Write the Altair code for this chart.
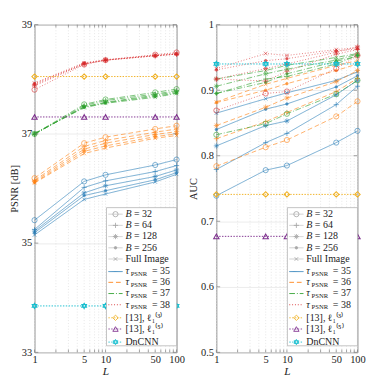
import math
import altair as alt
import pandas as pd

# ---------------- data ----------------
L_values = [1, 5, 10, 50, 100]
block_sizes = ["32", "64", "128", "256", "Full Image"]
tau_values = ["35", "36", "37", "38"]

# PSNR [dB]; one list per block size (32, 64, 128, 256, Full Image)
psnr_tau35 = [[35.42, 36.13, 36.25, 36.43, 36.53],
              [35.25, 36.02, 36.14, 36.31, 36.42],
              [35.22, 35.92, 36.05, 36.22, 36.34],
              [35.19, 35.87, 35.96, 36.16, 36.29],
              [35.15, 35.80, 35.90, 36.12, 36.26]]
psnr_tau36 = [[36.19, 36.83, 36.94, 37.09, 37.15],
              [36.15, 36.77, 36.88, 37.03, 37.09],
              [36.13, 36.72, 36.83, 36.99, 37.04],
              [36.11, 36.68, 36.78, 36.95, 37.00],
              [36.10, 36.64, 36.74, 36.92, 36.97]]
psnr_tau37 = [[37.00, 37.54, 37.63, 37.76, 37.82],
              [36.99, 37.52, 37.61, 37.73, 37.79],
              [37.00, 37.50, 37.58, 37.71, 37.77],
              [37.00, 37.49, 37.57, 37.69, 37.75],
              [37.01, 37.48, 37.56, 37.67, 37.74]]
psnr_tau38 = [[37.81, 38.27, 38.35, 38.45, 38.49],
              [37.88, 38.28, 38.35, 38.43, 38.46],
              [37.90, 38.28, 38.35, 38.43, 38.46],
              [37.92, 38.29, 38.35, 38.43, 38.46],
              [37.93, 38.30, 38.36, 38.44, 38.47]]

# AUC; one list per block size
auc_tau35 = [[0.739, 0.778, 0.785, 0.820, 0.838],
             [0.779, 0.820, 0.834, 0.878, 0.906],
             [0.815, 0.846, 0.853, 0.893, 0.915],
             [0.840, 0.871, 0.879, 0.905, 0.922],
             [0.865, 0.887, 0.896, 0.915, 0.928]]
auc_tau36 = [[0.784, 0.813, 0.824, 0.860, 0.883],
             [0.826, 0.852, 0.866, 0.898, 0.918],
             [0.846, 0.874, 0.888, 0.913, 0.930],
             [0.881, 0.900, 0.910, 0.930, 0.940],
             [0.882, 0.909, 0.918, 0.938, 0.945]]
auc_tau37 = [[0.832, 0.849, 0.864, 0.894, 0.915],
             [0.895, 0.917, 0.921, 0.940, 0.953],
             [0.906, 0.925, 0.932, 0.946, 0.955],
             [0.895, 0.912, 0.925, 0.944, 0.952],
             [0.917, 0.930, 0.938, 0.950, 0.956]]
auc_tau38 = [[0.869, 0.895, 0.898, 0.933, 0.953],
             [0.917, 0.914, 0.929, 0.955, 0.962],
             [0.917, 0.933, 0.940, 0.958, 0.966],
             [0.931, 0.945, 0.948, 0.960, 0.963],
             [0.933, 0.956, 0.953, 0.962, 0.965]]

ref_names = ["l3", "l5", "DnCNN"]
ref_labels = ["[13], \u2113\u2081\u207d\u00b3\u207e", "[13], \u2113\u2081\u207d\u2075\u207e", "DnCNN"]
psnr_refs = [38.05, 37.31, 33.85]
auc_refs = [0.741, 0.677, 0.940]

x_minor = [1, 2, 3, 4, 5, 6, 7, 8, 9, 10, 20, 30, 40, 50, 60, 70, 80, 90, 100]
x_labels = [1, 5, 10, 50, 100]
psnr_ticks = [33, 35, 37, 39]
auc_ticks = [0.5, 0.6, 0.7, 0.8, 0.9, 1.0]

# ---------------- style ----------------
FONT = "Liberation Serif"
TAU_COLORS = {"35": "#1f77b4", "36": "#ff7f0e", "37": "#2ca02c", "38": "#d62728"}
TAU_DASH = {"35": [1, 0], "36": [5, 3], "37": [6, 2, 1, 2], "38": [1, 2]}
PLUS = "M-1,0L1,0M0,-1L0,1"
AST = "M-1,0L1,0M0,-1L0,1M-0.7,-0.7L0.7,0.7M-0.7,0.7L0.7,-0.7"
XSH = "M-0.8,-0.8L0.8,0.8M-0.8,0.8L0.8,-0.8"
HEX = "M0,-1L0.87,0.5L-0.87,0.5ZM0,1L0.87,-0.5L-0.87,-0.5Z"
B_SHAPES = {"32": "circle", "64": PLUS, "128": AST, "256": "circle", "Full Image": XSH}
B_SIZES = {"32": 30, "64": 30, "128": 30, "256": 7, "Full Image": 22}
REF_COLORS = ["#f0b020", "#7e2f8e", "#17becf"]
REF_SHAPES = ["diamond", "triangle-up", HEX]
GRAY = "#a8a8a8"

# legend rows: distance of row centre from plot bottom in the reference (px)
legend_d = [148, 136, 124, 112, 100, 86.5, 75, 63, 51, 37, 25, 11]


def build_panel(series, refs, ydom, yticks, ytitle, label_expr, W, H):
    k = H / 351.0
    xs = alt.Scale(type="log", domain=[1, 100], nice=False)
    ys = alt.Scale(domain=ydom, nice=False, zero=False)
    xaxis = alt.Axis(values=x_labels, grid=False, ticks=False, domain=False,
                     labelFont=FONT, labelFontSize=11, labelColor="#222",
                     labelPadding=2, labelOverlap=False, labelFlush=False,
                     title="L", titleFont=FONT, titleFontSize=12,
                     titleFontStyle="italic", titleFontWeight="normal",
                     titlePadding=1, titleColor="#222")
    yaxis = alt.Axis(values=yticks, grid=True, gridColor="#e6e6e6",
                     gridWidth=0.8, ticks=False, domain=False,
                     labelExpr=label_expr, labelFont=FONT, labelFontSize=11,
                     labelColor="#222", labelPadding=3, title=ytitle,
                     titleFont=FONT, titleFontSize=11,
                     titleFontWeight="normal", titlePadding=2,
                     titleColor="#222")

    def X(f):
        return alt.X(f + ":Q", scale=xs, axis=xaxis)

    def Y(f):
        return alt.Y(f + ":Q", scale=ys, axis=yaxis)

    # pixel -> data helpers (for legend layout inside the plot)
    def px2x(px):
        return 10 ** (2.0 * px / W)

    def py2y(py):
        return ydom[0] + (H - py) / H * (ydom[1] - ydom[0])

    rows = []
    for t, blist in zip(tau_values, series):
        for b, vals in zip(block_sizes, blist):
            for L, v in zip(L_values, vals):
                rows.append(dict(L=L, v=v, tau=t, key=t + "-" + b,
                                 stroke=TAU_COLORS[t],
                                 fill=TAU_COLORS[t] if b == "256" else "transparent",
                                 shape=B_SHAPES[b], size=B_SIZES[b]))
    df = pd.DataFrame(rows)

    rrows = []
    for name, val, col, shp in zip(ref_names, refs, REF_COLORS, REF_SHAPES):
        for L in L_values:
            rrows.append(dict(L=L, v=val, name=name, col=col, shape=shp))
    dfr = pd.DataFrame(rrows)

    dfx = pd.DataFrame({"L": x_minor})
    dfy = pd.DataFrame({"v": yticks})

    grid = alt.Chart(dfx).mark_rule(
        color="#d9d9d9", strokeDash=[1, 2], strokeWidth=0.7
    ).encode(x=X("L"))

    tick_b = alt.Chart(dfx).mark_rule(color="#777", strokeWidth=0.7).encode(
        x=X("L"), y=alt.value(H), y2=alt.value(H - 3))
    tick_t = alt.Chart(dfx).mark_rule(color="#777", strokeWidth=0.7).encode(
        x=X("L"), y=alt.value(0), y2=alt.value(3))
    tick_l = alt.Chart(dfy).mark_rule(color="#777", strokeWidth=0.7).encode(
        y=Y("v"), x=alt.value(0), x2=alt.value(4))
    tick_r = alt.Chart(dfy).mark_rule(color="#777", strokeWidth=0.7).encode(
        y=Y("v"), x=alt.value(W - 4), x2=alt.value(W))

    lines = alt.Chart(df).mark_line(strokeWidth=0.9, strokeOpacity=0.7).encode(
        x=X("L"), y=Y("v"),
        color=alt.Color("tau:N", scale=alt.Scale(domain=tau_values,
                        range=[TAU_COLORS[t] for t in tau_values]), legend=None),
        strokeDash=alt.StrokeDash("tau:N", scale=alt.Scale(domain=tau_values,
                                  range=[TAU_DASH[t] for t in tau_values]), legend=None),
        detail="key:N",
    )
    points = alt.Chart(df).mark_point(strokeWidth=0.8, opacity=0.75).encode(
        x=X("L"), y=Y("v"),
        shape=alt.Shape("shape:N", scale=None),
        stroke=alt.Stroke("stroke:N", scale=None),
        fill=alt.Fill("fill:N", scale=None),
        size=alt.Size("size:Q", scale=None),
    )
    ref_lines = alt.Chart(dfr).mark_line(strokeWidth=1, strokeDash=[1.5, 1.5]).encode(
        x=X("L"), y=Y("v"),
        stroke=alt.Stroke("col:N", scale=None),
        detail="name:N",
    )
    ref_points = alt.Chart(dfr).mark_point(strokeWidth=1.1, size=32, filled=False, opacity=1).encode(
        x=X("L"), y=Y("v"),
        shape=alt.Shape("shape:N", scale=None),
        stroke=alt.Stroke("col:N", scale=None),
    )

    # ----- legend (drawn inside the plot, lower right) -----
    x0 = W - 74
    entries = (
        [dict(kind="B", col=GRAY, shape=B_SHAPES[b],
              fill=GRAY if b == "256" else "transparent", size=B_SIZES[b],
              dash=[1, 0]) for b in block_sizes] +
        [dict(kind="tau", col=TAU_COLORS[t], shape="", fill="transparent", size=0,
              dash=TAU_DASH[t]) for t in tau_values] +
        [dict(kind="ref", col=c, shape=s, fill="transparent", size=32, dash=[1.5, 1.5])
         for c, s in zip(REF_COLORS, REF_SHAPES)]
    )
    texts = (
        [("B", 0, "= " + b, 9, "", 0) for b in block_sizes[:4]] +
        [("", 0, "Full Image", 0, "", 0)] +
        [("\u03c4", 0, "= " + t, 28, "PSNR", 5.5) for t in tau_values] +
        [("", 0, lab, 0, "", 0) for lab in ref_labels]
    )
    tx = x0 + 20
    lrows = []
    for d, e, tt in zip(legend_d, entries, texts):
        py = H - d * k
        r = dict(e)
        r.update(ly=py2y(py), lys=py2y(py + 3),
                 lx1=px2x(x0 + 2), lx2=px2x(x0 + 17), mx=px2x(x0 + 9.5),
                 it=tt[0], itx=px2x(tx + tt[1]), nm=tt[2], nmx=px2x(tx + tt[3]),
                 sub=tt[4], subx=px2x(tx + tt[5]),
                 lcol=("#c8c8c8" if e["kind"] == "B" else e["col"]))
        lrows.append(r)
    dfl = pd.DataFrame(lrows)

    dfb = pd.DataFrame({"bx1": [px2x(x0)], "bx2": [100],
                        "by1": [py2y(H - 155 * k)], "by2": [py2y(H - 7 * k)]})
    box = alt.Chart(dfb).mark_rect(fill="white", stroke="#b0b0b0", strokeWidth=0.8).encode(
        x=X("bx1"), x2="bx2:Q", y=Y("by1"), y2="by2:Q")
    leg_lines = alt.Chart(dfl).mark_rule(strokeWidth=0.9).encode(
        x=X("lx1"), x2="lx2:Q", y=Y("ly"),
        stroke=alt.Stroke("lcol:N", scale=None),
        strokeDash=alt.StrokeDash("dash", scale=None),
    )
    leg_pts = alt.Chart(dfl).transform_filter("datum.shape != ''").mark_point(
        strokeWidth=0.9, opacity=1
    ).encode(
        x=X("mx"), y=Y("ly"),
        shape=alt.Shape("shape:N", scale=None),
        stroke=alt.Stroke("col:N", scale=None),
        fill=alt.Fill("fill:N", scale=None),
        size=alt.Size("size:Q", scale=None),
    )
    common = dict(font=FONT, baseline="middle", align="left", color="#222")
    t_nm = alt.Chart(dfl).mark_text(fontSize=10.5, **common).encode(
        x=X("nmx"), y=Y("ly"), text="nm:N")
    t_it = alt.Chart(dfl).mark_text(fontSize=10.5, fontStyle="italic", **common).encode(
        x=X("itx"), y=Y("ly"), text="it:N")
    t_sub = alt.Chart(dfl).mark_text(fontSize=7, **common).encode(
        x=X("subx"), y=Y("lys"), text="sub:N")

    return alt.layer(
        grid, lines, points, ref_lines, ref_points,
        tick_b, tick_t, tick_l, tick_r,
        box, leg_lines, leg_pts, t_nm, t_it, t_sub,
    ).properties(width=W, height=H)


left = build_panel([psnr_tau35, psnr_tau36, psnr_tau37, psnr_tau38], psnr_refs,
                   [33, 39], psnr_ticks, "PSNR [dB]", "datum.label", 150, 346)
right = build_panel([auc_tau35, auc_tau36, auc_tau37, auc_tau38], auc_refs,
                    [0.5, 1.0], auc_ticks, "AUC",
                    "datum.value == 1 ? '1' : format(datum.value, '.1f')", 149, 346)

chart = alt.hconcat(left, right, spacing=2).resolve_scale(
    x="independent", y="independent", color="independent",
    strokeDash="independent"
).configure_view(stroke="#8a8a8a", strokeWidth=1).properties(
    padding={"left": 0, "top": 0, "right": 0, "bottom": 0}, background="white"
)

chart.save("out.html", embed_options={"renderer": "svg", "actions": False})
